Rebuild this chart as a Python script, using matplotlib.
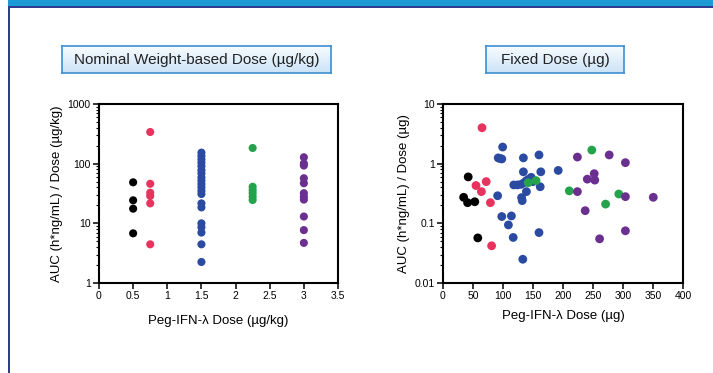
import matplotlib.pyplot as plt
import numpy as np
from matplotlib.patches import Rectangle
from matplotlib.ticker import LogLocator, FixedLocator, NullFormatter

plt.rcParams['font.family'] = ['Liberation Sans', 'DejaVu Sans']

# colours per dose group
grp_colors = ['#000000', '#e8335f', '#2b4ba2', '#24a34c', '#6a2f8f']

# left panel: nominal weight-based dose (ug/kg)
wb_dose = [0.5, 0.75, 1.5, 2.25, 3.0]
wb_auc = [
    [48.7, 24.3, 17.6, 6.8],
    [339, 46, 32.6, 28.7, 21.6, 4.45],
    [153, 134, 118, 104, 91, 78, 69, 59, 52, 45.6, 40, 35, 31, 21.6, 18.5,
     10, 8.6, 7, 4.45, 2.25],
    [183, 41, 36, 32, 28, 24.6],
    [128, 101, 93, 57, 47, 32, 28, 25, 13, 7.7, 4.7],
]

# right panel: fixed dose (ug)
fx_dose = [
    [34.4, 41, 42, 53, 58],
    [65, 55, 72, 64, 79, 81],
    [99.4, 92, 95, 98, 91, 98, 114, 109, 117, 133, 134, 134, 118, 124, 130,
     135, 139, 143, 147, 150, 139, 131, 132, 160, 162, 163, 160, 192],
    [142, 155, 210.5, 248, 271, 293],
    [224, 224, 240.5, 237, 252, 253, 261, 277, 304, 304, 304, 350.5],
]
fx_auc = [
    [0.273, 0.222, 0.60, 0.23, 0.057],
    [4.0, 0.43, 0.50, 0.34, 0.222, 0.042],
    [1.90, 1.25, 1.22, 1.20, 0.29, 0.13, 0.133, 0.094, 0.058, 0.025, 1.25,
     0.73, 0.44, 0.44, 0.45, 0.48, 0.52, 0.55, 0.59, 0.50, 0.34, 0.27, 0.24,
     1.40, 0.41, 0.73, 0.07, 0.77],
    [0.48, 0.52, 0.35, 1.69, 0.21, 0.31],
    [1.29, 0.34, 0.55, 0.163, 0.68, 0.53, 0.055, 1.40, 1.04, 0.28, 0.075, 0.273],
]

W, H = 713, 373
fig = plt.figure(figsize=(W / 100, H / 100), dpi=100)

# slide decoration: top band and left border
fig.patches.append(Rectangle((8 / W, 1 - 6 / H), 1, 6 / H, transform=fig.transFigure,
                             facecolor='#1b9ad6', edgecolor='none', zorder=0))
fig.patches.append(Rectangle((8 / W, 1 - 8 / H), 1, 2 / H, transform=fig.transFigure,
                             facecolor='#2e3a8c', edgecolor='none', zorder=0))
fig.patches.append(Rectangle((8 / W, 0), 2 / W, 1 - 6 / H, transform=fig.transFigure,
                             facecolor='#2e3a8c', edgecolor='none', zorder=0))


def title_box(x0, x1, text):
    bax = fig.add_axes([x0 / W, 1 - 73 / H, (x1 - x0) / W, 27 / H])
    grad = np.linspace(0, 1, 50).reshape(-1, 1)
    top = np.array([0.97, 0.99, 1.0])
    bot = np.array([0.80, 0.89, 0.97])
    img = top + (bot - top) * grad[:, :, None]
    bax.imshow(img, aspect='auto', extent=[0, 1, 0, 1], origin='upper')
    bax.set_xticks([])
    bax.set_yticks([])
    for s in bax.spines.values():
        s.set_color('#3d8fd1')
        s.set_linewidth(1.2)
    bax.text(0.5, 0.48, text, ha='center', va='center', fontsize=11, color='#222222')


def style(ax):
    for s in ax.spines.values():
        s.set_linewidth(1.5)
        s.set_color('black')
    ax.tick_params(which='major', direction='out', length=4, width=1.1, labelsize=7.5, pad=2)
    ax.tick_params(which='minor', direction='out', length=2.2, width=0.8)
    ax.set_yscale('log')
    ax.yaxis.set_minor_locator(LogLocator(base=10, subs=np.arange(2, 10)))
    ax.yaxis.set_minor_formatter(NullFormatter())


# left panel
ax1 = fig.add_axes([99 / W, 1 - 283 / H, 239 / W, 179 / H])
for x, ys, c in zip(wb_dose, wb_auc, grp_colors):
    ax1.scatter([x] * len(ys), ys, s=34, color=c, edgecolors='none', zorder=3)
style(ax1)
ax1.set_xlim(0, 3.5)
ax1.set_ylim(1, 1000)
ax1.xaxis.set_major_locator(FixedLocator([0, 0.5, 1, 1.5, 2, 2.5, 3, 3.5]))
ax1.set_xticklabels(['0', '0.5', '1', '1.5', '2', '2.5', '3', '3.5'])
ax1.set_yticks([1, 10, 100, 1000])
ax1.set_yticklabels(['1', '10', '100', '1000'])
ax1.set_xlabel('Peg-IFN-λ Dose (µg/kg)', fontsize=9.5, labelpad=10)
ax1.set_ylabel('AUC (h*ng/mL) / Dose (µg/kg)', fontsize=9.5, labelpad=3)

# right panel
ax2 = fig.add_axes([443 / W, 1 - 283 / H, 240 / W, 179 / H])
for xs, ys, c in zip(fx_dose, fx_auc, grp_colors):
    ax2.scatter(xs, ys, s=40, color=c, edgecolors='none', zorder=3)
style(ax2)
ax2.set_xlim(0, 400)
ax2.set_ylim(0.01, 10)
ax2.set_xticks(np.arange(0, 401, 50))
ax2.set_yticks([0.01, 0.1, 1, 10])
ax2.set_yticklabels(['0.01', '0.1', '1', '10'])
ax2.set_xlabel('Peg-IFN-λ Dose (µg)', fontsize=9.5, labelpad=6)
ax2.set_ylabel('AUC (h*ng/mL) / Dose (µg)', fontsize=9.5, labelpad=3)

title_box(62, 331, 'Nominal Weight-based Dose (µg/kg)')
title_box(486, 624, 'Fixed Dose (µg)')

fig.savefig('out.png', dpi=100)
